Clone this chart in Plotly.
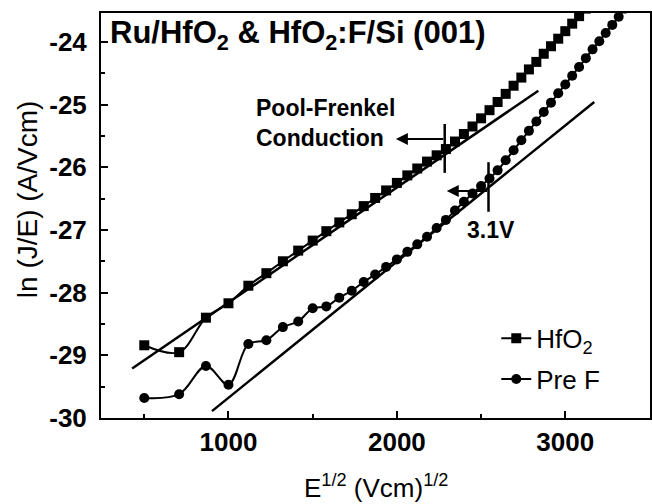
import plotly.graph_objects as go

# ---- data ----
e_sqrt = [500, 707, 866, 1000, 1118, 1225, 1323, 1414, 1500, 1581, 1658, 1732, 1803, 1871,
          1936, 2000, 2062, 2121, 2179, 2236, 2291, 2345, 2398, 2449, 2500, 2550, 2598,
          2646, 2693, 2739, 2784, 2828, 2872, 2915, 2958, 3000, 3041, 3082, 3122, 3162,
          3202, 3240, 3279, 3317, 3354]

hfo2_y = [-28.84, -28.95, -28.40, -28.17, -27.89, -27.69, -27.50, -27.33, -27.17, -27.02,
          -26.88, -26.75, -26.62, -26.49, -26.37, -26.25, -26.13, -26.02, -25.91, -25.81,
          -25.71, -25.59, -25.47, -25.35, -25.22, -25.09, -24.96, -24.83, -24.70, -24.57,
          -24.44, -24.32, -24.19, -24.07, -23.95, -23.83, -23.71, -23.59, -23.47]

pref_y = [-29.68, -29.62, -29.17, -29.47, -28.82, -28.76, -28.55, -28.46, -28.25, -28.22,
          -28.08, -27.97, -27.83, -27.71, -27.59, -27.47, -27.35, -27.23, -27.11, -26.97,
          -26.84, -26.69, -26.55, -26.42, -26.30, -26.18, -26.05, -25.89, -25.73, -25.57,
          -25.42, -25.27, -25.12, -24.97, -24.82, -24.68, -24.54, -24.40, -24.26, -24.12,
          -23.99, -23.86, -23.73, -23.60, -23.47]

fit1_x = [428, 2840]
fit1_y = [-29.21, -24.78]
fit2_x = [902, 3172]
fit2_y = [-29.89, -24.96]

# marker positions for annotations
pf_mark_x = 2284
pf_mark_y = [-25.31, -26.09]
pf_arrow = dict(x_tail=2284, x_head=1994, y=-25.55)
v31_mark_x = 2544
v31_mark_y = [-25.92, -26.71]
v31_arrow = dict(x_tail=2544, x_head=2296, y=-26.38)

xticks = [1000, 2000, 3000]
yticks = [-30, -29, -28, -27, -26, -25, -24]

FONT = "Liberation Sans, Arial, sans-serif"

fig = go.Figure()

fig.add_trace(go.Scatter(
    x=e_sqrt[:len(hfo2_y)], y=hfo2_y, mode="lines+markers", name="HfO<sub>2</sub>",
    line=dict(color="black", width=2, shape="spline", smoothing=1.0),
    marker=dict(symbol="square", size=10, color="black"),
    legendgroup="a"))

fig.add_trace(go.Scatter(
    x=e_sqrt[:len(pref_y)], y=pref_y, mode="lines+markers", name="Pre F",
    line=dict(color="black", width=2, shape="spline", smoothing=1.0),
    marker=dict(symbol="circle", size=10, color="black"),
    legendgroup="b"))

for fx, fy in ((fit1_x, fit1_y), (fit2_x, fit2_y)):
    fig.add_trace(go.Scatter(x=fx, y=fy, mode="lines", showlegend=False,
                             line=dict(color="black", width=2.5)))

# vertical marks
for mx, my in ((pf_mark_x, pf_mark_y), (v31_mark_x, v31_mark_y)):
    fig.add_shape(type="line", x0=mx, x1=mx, y0=my[0], y1=my[1],
                  xref="x", yref="y", line=dict(color="black", width=2.5))

# arrows
for a in (pf_arrow, v31_arrow):
    fig.add_annotation(x=a["x_head"], y=a["y"], ax=a["x_tail"], ay=a["y"],
                       xref="x", yref="y", axref="x", ayref="y",
                       showarrow=True, arrowhead=2, arrowsize=1.2, arrowwidth=2,
                       arrowcolor="black", text="")

fig.add_annotation(x=1150, y=-25.06, xref="x", yref="y", text="Pool-Frenkel",
                   showarrow=False, xanchor="left", yanchor="middle",
                   font=dict(family=FONT, size=23, color="black", weight="bold"))
fig.add_annotation(x=1150, y=-25.53, xref="x", yref="y", text="Conduction",
                   showarrow=False, xanchor="left", yanchor="middle",
                   font=dict(family=FONT, size=23, color="black", weight="bold"))
fig.add_annotation(x=2556, y=-27.0, xref="x", yref="y", text="3.1V",
                   showarrow=False, xanchor="center", yanchor="middle",
                   font=dict(family=FONT, size=23, color="black", weight="bold"))

# title inside plot
fig.add_annotation(x=0.012, y=1.0, xref="paper", yref="paper",
                   text="Ru/HfO<sub>2</sub> & HfO<sub>2</sub>:F/Si (001)",
                   showarrow=False, xanchor="left", yanchor="top",
                   font=dict(family=FONT, size=31, color="black", weight="bold"))

# axis titles as annotations
fig.add_annotation(x=-0.135, y=0.54, xref="paper", yref="paper",
                   text="ln (J/E) (A/Vcm)", textangle=-90, showarrow=False,
                   xanchor="center", yanchor="middle",
                   font=dict(family=FONT, size=28, color="black"))
fig.add_annotation(x=0.5, y=-0.168, xref="paper", yref="paper",
                   text="E<sup>1/2</sup> (Vcm)<sup>1/2</sup>", showarrow=False,
                   xanchor="center", yanchor="middle",
                   font=dict(family=FONT, size=26, color="black"))

axis_common = dict(showline=True, linecolor="black", linewidth=2, mirror=True,
                   ticks="inside", tickcolor="black", tickwidth=2, ticklen=7,
                   showgrid=False, zeroline=False,
                   tickfont=dict(family=FONT, size=26, color="black", weight="bold"))

fig.update_xaxes(range=[243, 3503], tickvals=xticks, ticktext=[str(v) for v in xticks],
                 minor=dict(tickvals=[500, 1500, 2500, 3500], ticks="inside", ticklen=4,
                            tickwidth=2, tickcolor="black"),
                 ticklabelstandoff=0,
                 **axis_common)
fig.update_yaxes(range=[-30, -23.54], tickvals=yticks, ticktext=[str(v) for v in yticks],
                 minor=dict(tickvals=[-29.5, -28.5, -27.5, -26.5, -25.5, -24.5, -23.5],
                            ticks="inside", ticklen=4, tickwidth=2, tickcolor="black"),
                 ticklabelstandoff=7,
                 **axis_common)

fig.update_layout(
    width=652, height=504,
    margin=dict(l=101, r=0, t=13, b=86),
    paper_bgcolor="white", plot_bgcolor="white",
    showlegend=True,
    legend=dict(x=0.72, y=0.255, xanchor="left", yanchor="top",
                bgcolor="rgba(0,0,0,0)", tracegroupgap=4, itemwidth=30,
                font=dict(family=FONT, size=26, color="black")),
)

fig.write_html("out.html", config={"displayModeBar": False},
               post_script="document.body.style.margin='0';")
